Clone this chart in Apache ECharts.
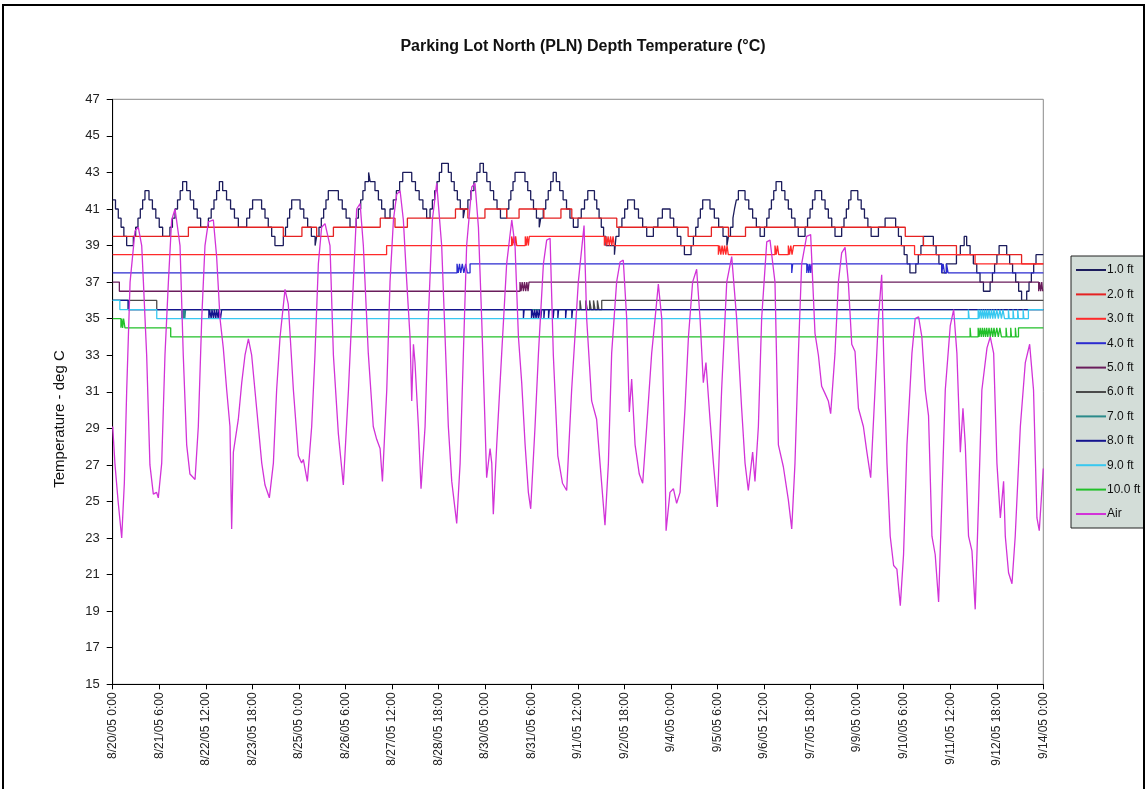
<!DOCTYPE html>
<html><head><meta charset="utf-8">
<script src="https://cdn.jsdelivr.net/npm/echarts@6/dist/echarts.min.js"></script>
<style>html,body{margin:0;padding:0;background:#fff;}#c{width:1147px;height:789px;}</style>
</head><body><div id="c"></div>
<script>
// hours since 8/20/05 0:00
const xTickLabels = ["8/20/05 0:00","8/21/05 6:00","8/22/05 12:00","8/23/05 18:00","8/25/05 0:00","8/26/05 6:00","8/27/05 12:00","8/28/05 18:00","8/30/05 0:00","8/31/05 6:00","9/1/05 12:00","9/2/05 18:00","9/4/05 0:00","9/5/05 6:00","9/6/05 12:00","9/7/05 18:00","9/9/05 0:00","9/10/05 6:00","9/11/05 12:00","9/12/05 18:00","9/14/05 0:00"];
const seriesNames = ["1.0 ft","2.0 ft","3.0 ft","4.0 ft","5.0 ft","6.0 ft","7.0 ft","8.0 ft","9.0 ft","10.0 ft","Air"];

const ft1 = [[0,41.5],[1.8,41],[3.6,40.5],[5.4,40],[7.2,39.5],[9,39],
[13.3,39.5],[14.8,40],[16.3,40.5],[17.8,41],[19.3,41.5],[20.8,42],
[23.4,41.5],[25.6,41],[27.8,40.5],[30,40],[32.2,39.5],
[36.9,40],[38.5,40.5],[40.2,41],[41.8,41.5],[43.5,42],[45.1,42.5],
[47.7,42],[50,41.5],[52.2,41],[54.5,40.5],[56.7,40],
[61.7,40.5],[63.5,41],[65.3,41.5],[67,42],[68.8,42.5],
[70.9,42],[73.4,41.5],[76,41],[78.5,40.5],[81,40],
[86.4,40.5],[88.3,41],[90.2,41.5],
[96,41],[98.2,40.5],[100.3,40],[102.5,39.5],[104.6,39],
[110,39.5],[111.4,40],[112.7,40.5],[114.1,41],[115.4,41.5],
[120.8,41],[123.2,40.5],[125.7,40],[128.1,39.5],[130.5,39],
[131.5,39.5],[133,40],[134.5,40.5],[136,41],[137.5,41.5],[139,42],
[145.5,41.5],[148,41],[150.5,40.5],[153,40],
[157,40.5],[158.4,41],[159.9,41.5],[161.3,42],[162.7,42.5],[165,43],[166,42.5],
[169.1,42],[171.3,41.5],[173.4,41],[175.6,40.5],
[178.8,41],[180.9,41.5],[182.9,42],[185,42.5],[187,43],
[192.8,42.5],[195.2,42],[197.6,41.5],[200,41],[202.4,40.5],
[204.6,41],[206.1,41.5],[207.6,42],[209.1,42.5],[210.6,43],[212.1,43.5],
[216.4,43],[218.3,42.5],[220.2,42],[222.2,41.5],[224.1,41],[226,40.5],
[227,41],[229,41.5],[230.9,42],[232.9,42.5],[234.8,43],[236.8,43.5],
[239,43],[241.2,42.5],[243.4,42],[245.6,41.5],[247.8,41],[250,40.5],
[254,41],[255.4,41.5],[256.7,42],[258.1,42.5],[259.4,43],
[265.8,42.5],[267.6,42],[269.5,41.5],[271.3,41],[273.2,40.5],[275,40],
[276,40.5],[277.6,41],[279.2,41.5],[280.8,42],[282.4,42.5],[284,43],
[286,42.5],[288.2,42],[290.4,41.5],[292.6,41],[294.8,40.5],[297,40],
[300,40.5],[302.1,41],[304.2,41.5],[306.3,42],
[310.6,41.5],[312.1,41],[313.6,40.5],[315,40],[316.5,39.5],[318,39],[323.5,38.5],[324,39],
[324.5,39.5],[326.4,40],[328.3,40.5],[330.1,41],[332,41.5],
[336.4,41],[339,40.5],[341.7,40],[344.3,39.5],
[348.6,40],[351.5,40.5],[354.4,41],
[359.4,40.5],[361.7,40],[364,39.5],[366.3,39],[368.6,38.5],
[372.9,39],[374.4,39.5],[375.9,40],[377.4,40.5],[378.9,41],[380.4,41.5],
[385.1,41],[387.9,40.5],[390.7,40],[393.5,39.5],[396,39],
[397,39.5],[398.3,40],[399.9,40.5],[400.9,41],[402.1,41.5],[403.4,42],
[407.7,41.5],[410.1,41],[412.6,40.5],[415,40],[417.4,39.5],
[420.2,40],[421.7,40.5],[423.2,41],[424.7,41.5],[426.2,42],[427.7,42.5],
[431.3,42],[433.4,41.5],[435.6,41],[437.7,40.5],[439.9,40],[442,39.5],
[446.4,40],[448,40.5],[449.6,41],[451.2,41.5],[452.8,42],
[457.1,41.5],[459.3,41],[461.4,40.5],[463.6,40],[465.7,39.5],
[470,40],[471.5,40.5],[473,41],[474.5,41.5],[476,42],
[480.4,41.5],[482.6,41],[484.7,40.5],[486.9,40],[489,39.5],
[493.7,40],[498,40.5],
[504.8,40],[506.6,39.5],[508.5,39],[510.3,38.5],[512.2,38],[514,37.5],
[517.8,38],[519.4,38.5],[521.1,39],[522.7,39.5],
[529.1,39],[530.9,38.5],[532.7,38],[534.5,37.5],
[537.5,38],[544,38.5],[546.5,39],[549,39.5],
[550.6,39],[552.8,38.5],[554.9,38],[557.1,37.5],[559.2,37],[561.4,36.5],
[565.7,37],[567.2,37.5],[568.6,38],[570.1,38.5],[571.5,39],
[576.4,38.5],[578.3,38],[580.2,37.5],[582.2,37],[584.1,36.5],[586,36],
[589.3,36.5],[590.8,37],[592.3,37.5],[593.8,38],[595.3,38.5],[600,38.5]];

const ft2 = [[0,39.5],[48.8,40],[110,39.5],[122,40],[131.5,39.5],[142.3,40],[172.5,40.5],[182,40],[190,40.5],[221,41],[229,40.5],[240,41],[254,40.5],[262,41],[278,40.5],[289,41],[296,40.5],[325,40],[371,39.5],[386,40],[397,39.5],[408,40],[511,39.5],[522.7,39],[544,38.5],[586,38],[600,38]];

const ft3 = [[0,38.5],[176.6,39],[257.2,39.5],[257.8,39],[258.5,39.5],[259.2,39],[259.8,39.5],[260.5,39],[266,39.5],[266.6,39],[267.3,39.5],[268,39],[268.6,39.5],[269.2,39.5],
[317,39],[317.8,39.5],[318.6,39],[319.4,39.5],[320.2,39],[321,39.5],[321.8,39],[322.6,39.5],[323.4,39],[324,39],
[390.5,38.5],[391.3,39],[392.1,38.5],[392.9,39],[393.7,38.5],[394.5,39],[395.3,38.5],[396.1,39],[396.9,38.5],[398,38.5],
[427,39],[427.8,38.5],[428.6,39],[429.4,38.5],[430.3,38.5],[435.6,39],[436.4,38.5],[437.2,39],[438,38.5],[439,39],
[517,38.5],[556,38],[600,38]];

const ft4 = [[0,37.5],[222,38],[222.8,37.5],[223.6,38],[224.4,37.5],[225.4,38],[226.4,37.5],[227.6,38],[228.6,37.5],[230.4,38],
[437.8,37.5],[438.4,38],[447.5,37.5],[448.2,38],[448.8,37.5],[449.5,38],[450.1,37.5],[450.7,38],
[534.5,37.5],[535.4,38],[536.3,37.5],[537.6,38],[538.6,37.5],[600,37.5]];

const ft5 = [[0,37],[4.3,36.5],[262.6,37],[263.3,36.5],[264,37],[264.8,36.5],[265.5,37],[266.3,36.5],[267,37],[267.8,36.5],[268.4,37],
[597,36.5],[597.6,37],[598.3,36.5],[599,37],[599.6,36.5],[600,36.5]];

const ft6 = [[0,36],[28.4,35.5],[301.3,36],[302,35.5],[305,36],[306,35.5],[307.5,36],[308.5,35.5],[310,36],[311,35.5],[312.5,36],[313.5,35.5],[315.3,36],[600,36]];

const ft7 = [[0,36],[10,35.5],[44.5,35],[45,35.5],[45.5,35],[46,35.5],[46.5,35],[47,35.5],[600,35.5]];

const ft8 = [[0,36],[10,35.5],[62,35],[62.5,35.5],[63.5,35],[64,35.5],[65,35],[65.5,35.5],[66.5,35],[67,35.5],[68,35],[68.5,35.5],[69.5,35],[70.3,35.5],
[264.8,35],[265.3,35.5],[270,35],[270.5,35.5],[271.5,35],[272,35.5],[273,35],[273.5,35.5],[274.5,35],[275,35.5],[276,35],[276.6,35.5],[278,35],[278.5,35.5],
[281,35],[281.5,35.5],[284,35],[284.5,35.5],[287,35],[287.5,35.5],[292,35],[292.5,35.5],[296,35],[296.5,35.5],[600,35.5]];

const ft9 = [[0,36],[4.6,35.5],[28.4,35],[551.7,35.5],[552.2,35],[558,35.5],[558.6,35],[559.3,35.5],[560,35],[560.7,35.5],[561.4,35],[562.1,35.5],[562.8,35],[563.5,35.5],[564.2,35],[565,35.5],[565.8,35],[566.6,35.5],[567.4,35],[568.2,35.5],[569,35],[570,35.5],[571,35],[572,35.5],[573,35],[574,35.5],[575,35],
[577.5,35.5],[578,35],[580.5,35.5],[581,35],[583.5,35.5],[584,35],[587,35.5],[587.5,35],[590.4,35.5],[600,35.5]];

const ft10 = [[0,35],[5.3,34.5],[5.8,35],[6.4,34.5],[7,35],[7.9,34.5],[37.4,34],
[552.8,34.5],[553.3,34],[558,34.5],[558.6,34],[559.3,34.5],[560,34],[560.7,34.5],[561.4,34],[562.1,34.5],[562.8,34],[563.5,34.5],[564.2,34],[565,34.5],[565.8,34],[566.6,34.5],[567.4,34],[568.2,34.5],[569,34],[570,34.5],[571,34],[572,34.5],[573,34],
[576,34.5],[576.5,34],[579,34.5],[579.5,34],[582,34.5],[582.5,34],[584,34.5],[600,34.5]];

const air = [[0,29.1],[1.5,27],[3.5,25],[5.8,23.0],[7.5,26],[9,31],[11.2,37],[14.4,39.8],[16.5,40.0],[18.7,39],[19.8,37],[21.9,33],[24,27],[26.2,25.4],[28.3,25.5],[29.4,25.2],
[31.6,27.1],[33.7,33],[35.9,37],[38,40.4],[40.2,41],[41.2,41.1],[43.4,39],[45.5,33],[47.7,28.1],[49.8,26.5],[53.1,26.2],
[55.2,29.1],[57.4,35],[59.5,39],[61.7,40.3],[64.9,40.4],[67,38.4],[69.2,35],[71.3,33.4],[73.5,31.1],[75.6,29.1],[76.7,23.5],[77.8,27.7],
[81,29.5],[83.2,31.5],[85.3,33],[87.5,33.9],[89.6,33],[92.8,30.1],[96.1,27.1],[98.2,25.9],[101,25.2],
[103.6,27.1],[105.7,31.1],[107.9,34],[111.1,36.6],[113.2,35.8],[116.5,31.1],[119.7,27.5],[121.8,27.1],[122.9,27.3],[125.5,26.1],
[128.3,29.1],[130.4,33],[132.6,38],[134.7,40],[136.9,40.2],[140.1,39],[142.3,33],[145.5,28.7],[148.7,25.9],
[152,31.1],[154.1,35],[157.3,41],[159.5,41.3],[161.6,39],[164.8,33.1],[168,29.1],[170.2,28.4],[172.4,27.9],[173.9,26.1],
[176.7,31.1],[178.8,37],[181,40.4],[183.1,41.8],[185.3,42],[187.4,40.4],[189.6,37],[191.7,34],[192.8,30.5],[193.9,33.6],[194.9,32.6],[197.1,29.1],[198.8,25.7],
[201.4,29.1],[203.5,35],[206.1,40.4],[208.9,42.4],[210,42.5],[212.1,39],[214.3,34],[216.4,29.1],[218.6,26.1],[221.8,23.8],
[224,27.1],[226.1,33.1],[228.2,39],[231.5,42.2],[233.6,42.4],[235.8,40],[237.9,35],[240.1,29.1],[241.1,26.3],[243.3,27.9],[244.4,27.1],[245.4,24.3],
[247.6,28.1],[250.8,33.1],[254,38],[257.3,40.4],[259.4,39],[261.6,34],[263.7,31.5],[265.9,28.1],[268,25.5],[269.5,24.6],
[272.3,29.1],[274.5,33.1],[277.7,38],[279.8,39.3],[282,39.4],[284.1,33],[287,27.5],[290,26],[292.7,25.6],
[295.9,31.1],[300.2,37],[303.9,40.1],[305.6,35],[308.8,30.5],[312,29.5],[314.2,27.1],[317.4,23.7],
[319.6,27.1],[321.7,33.1],[324.9,37],[327.1,38.1],[329.2,38.2],[331.4,35],[333.1,29.9],[334.6,31.7],[336.8,28.1],[339.5,26.5],[341.7,26],
[344.3,29.1],[347.5,33.1],[349.7,35],[351.8,36.9],[354,35],[356.1,27.1],[356.8,23.4],[359.3,25.5],[361.5,25.7],[363.6,24.9],[365.8,25.5],
[369,30.1],[371.2,34],[373.9,37],[376.5,37.7],[378.7,35],[380.8,31.5],[382.5,32.6],[385.1,29.5],[387.3,27.1],[389.8,24.7],
[392.6,31.1],[395.9,37],[399.1,38.4],[402.3,35],[405.5,30.1],[407.7,27.1],[409.8,25.6],[412.6,27.7],[414.1,26.1],
[416.3,29.1],[418.4,35],[421.7,39.2],[423.8,39.3],[427,37],[429.2,28.1],[432.4,26.9],[435.6,25.1],[437.8,23.5],
[439.9,27.1],[442.1,33.1],[444.2,38],[447.4,39.5],[450,39.6],[452.8,34.2],[455,33],[457.1,31.3],[459.3,30.9],[461.4,30.5],[462.9,29.8],
[465.7,33.1],[467.9,37],[470,38.6],[472.2,38.9],[474.3,37],[476.5,33.6],[478.6,33.2],[480.8,30.1],[484,29.1],[486.1,27.8],[488.7,26.3],
[491.5,31.1],[493.7,35],[495.8,37.4],[497.1,33],[499.2,27.1],[501.3,23.1],[503.5,21.5],[505.6,21.3],[507.8,19.3],
[509.9,22.1],[512.1,28.1],[515.3,33.1],[517.4,35],[519.6,35.1],[521.7,34],[523.9,31.1],[526,29.7],[528.2,23.1],[530.3,22.1],[532.5,19.5],
[534.6,25.1],[536.8,31.1],[540,34.6],[542.2,35.5],[544.3,33.1],[546.5,27.7],[548.2,30.1],[549.7,28.1],[551.8,23.1],[554,22.3],[556.1,19.1],
[558.3,25.1],[560.4,31.1],[563.7,33.4],[565.8,34],[568,33.1],[570.1,27.1],[572.3,24.1],[574.4,26.1],[575.5,23.1],[577.6,21.1],[579.8,20.5],
[581.9,23.1],[585.2,29.1],[588.4,32.6],[591.2,33.6],[593.7,31.1],[595.9,24.1],[597.4,23.4],[600,26.8]];

const colors = ["#1c1c5c","#e52222","#ff2a2a","#2b2bd0","#6a1d5c","#4a4a4a","#2a8a8a","#14148f","#38c8f0","#22c02a","#d233d8"];
const dataList = [ft1,ft2,ft3,ft4,ft5,ft6,ft7,ft8,ft9,ft10,air];

const FONT = "Liberation Sans, Arial, sans-serif";
const series = dataList.map((d,i)=>({
  name: seriesNames[i], type:'line', data:d, showSymbol:false, symbol:'none',
  step: i<10 ? 'end' : false, animation:false,
  lineStyle:{color:colors[i], width:1.3},
  itemStyle:{color:colors[i]}
}));

const chart = echarts.init(document.getElementById('c'), null, {renderer:'canvas'});
chart.setOption({
  backgroundColor:'#ffffff',
  animation:false,
  title:{text:'Parking Lot North (PLN) Depth Temperature (°C)', left:578, top:34, textAlign:'center',
    textStyle:{fontFamily:FONT, fontSize:16, fontWeight:'bold', color:'#111'}},
  grid:{left:112.7, right:103.7, top:99.3, bottom:104.7, show:true, borderColor:'#8a8a8a', borderWidth:1, backgroundColor:'#fff'},
  legend:{orient:'vertical', left:1071, top:256, data:seriesNames, icon:'rect', itemWidth:30, itemHeight:2, itemGap:12.4,
    backgroundColor:'#d3ddd8', borderColor:'#222', borderWidth:1, padding:[8,4,8,5],
    textStyle:{fontFamily:FONT, fontSize:12, color:'#111', padding:[0,0,0,-4]}},
  xAxis:{type:'value', min:0, max:600, interval:30,
    axisLine:{show:true, lineStyle:{color:'#000', width:1}},
    axisTick:{show:true, length:5, lineStyle:{color:'#000'}},
    splitLine:{show:false},
    axisLabel:{rotate:90, fontFamily:FONT, fontSize:12, color:'#222', margin:8,
      formatter:(v)=>xTickLabels[Math.round(v/30)] || ''}},
  yAxis:{type:'value', min:15, max:47, interval:2,
    axisLine:{show:true, lineStyle:{color:'#000', width:1}},
    axisTick:{show:true, length:6, lineStyle:{color:'#000'}},
    splitLine:{show:false},
    axisLabel:{fontFamily:FONT, fontSize:13, color:'#222', margin:13}},
  graphic:[
    {type:'text', x:60, y:419, rotation:Math.PI/2, silent:true,
     style:{text:'Temperature - deg C', fontFamily:FONT, fontSize:15, fill:'#111', textAlign:'center', textVerticalAlign:'middle'}},
    {type:'rect', shape:{x:3, y:5, width:1141, height:800}, style:{fill:'none', stroke:'#000', lineWidth:2}, silent:true, z:100}],
  series: series
});
</script></body></html>
